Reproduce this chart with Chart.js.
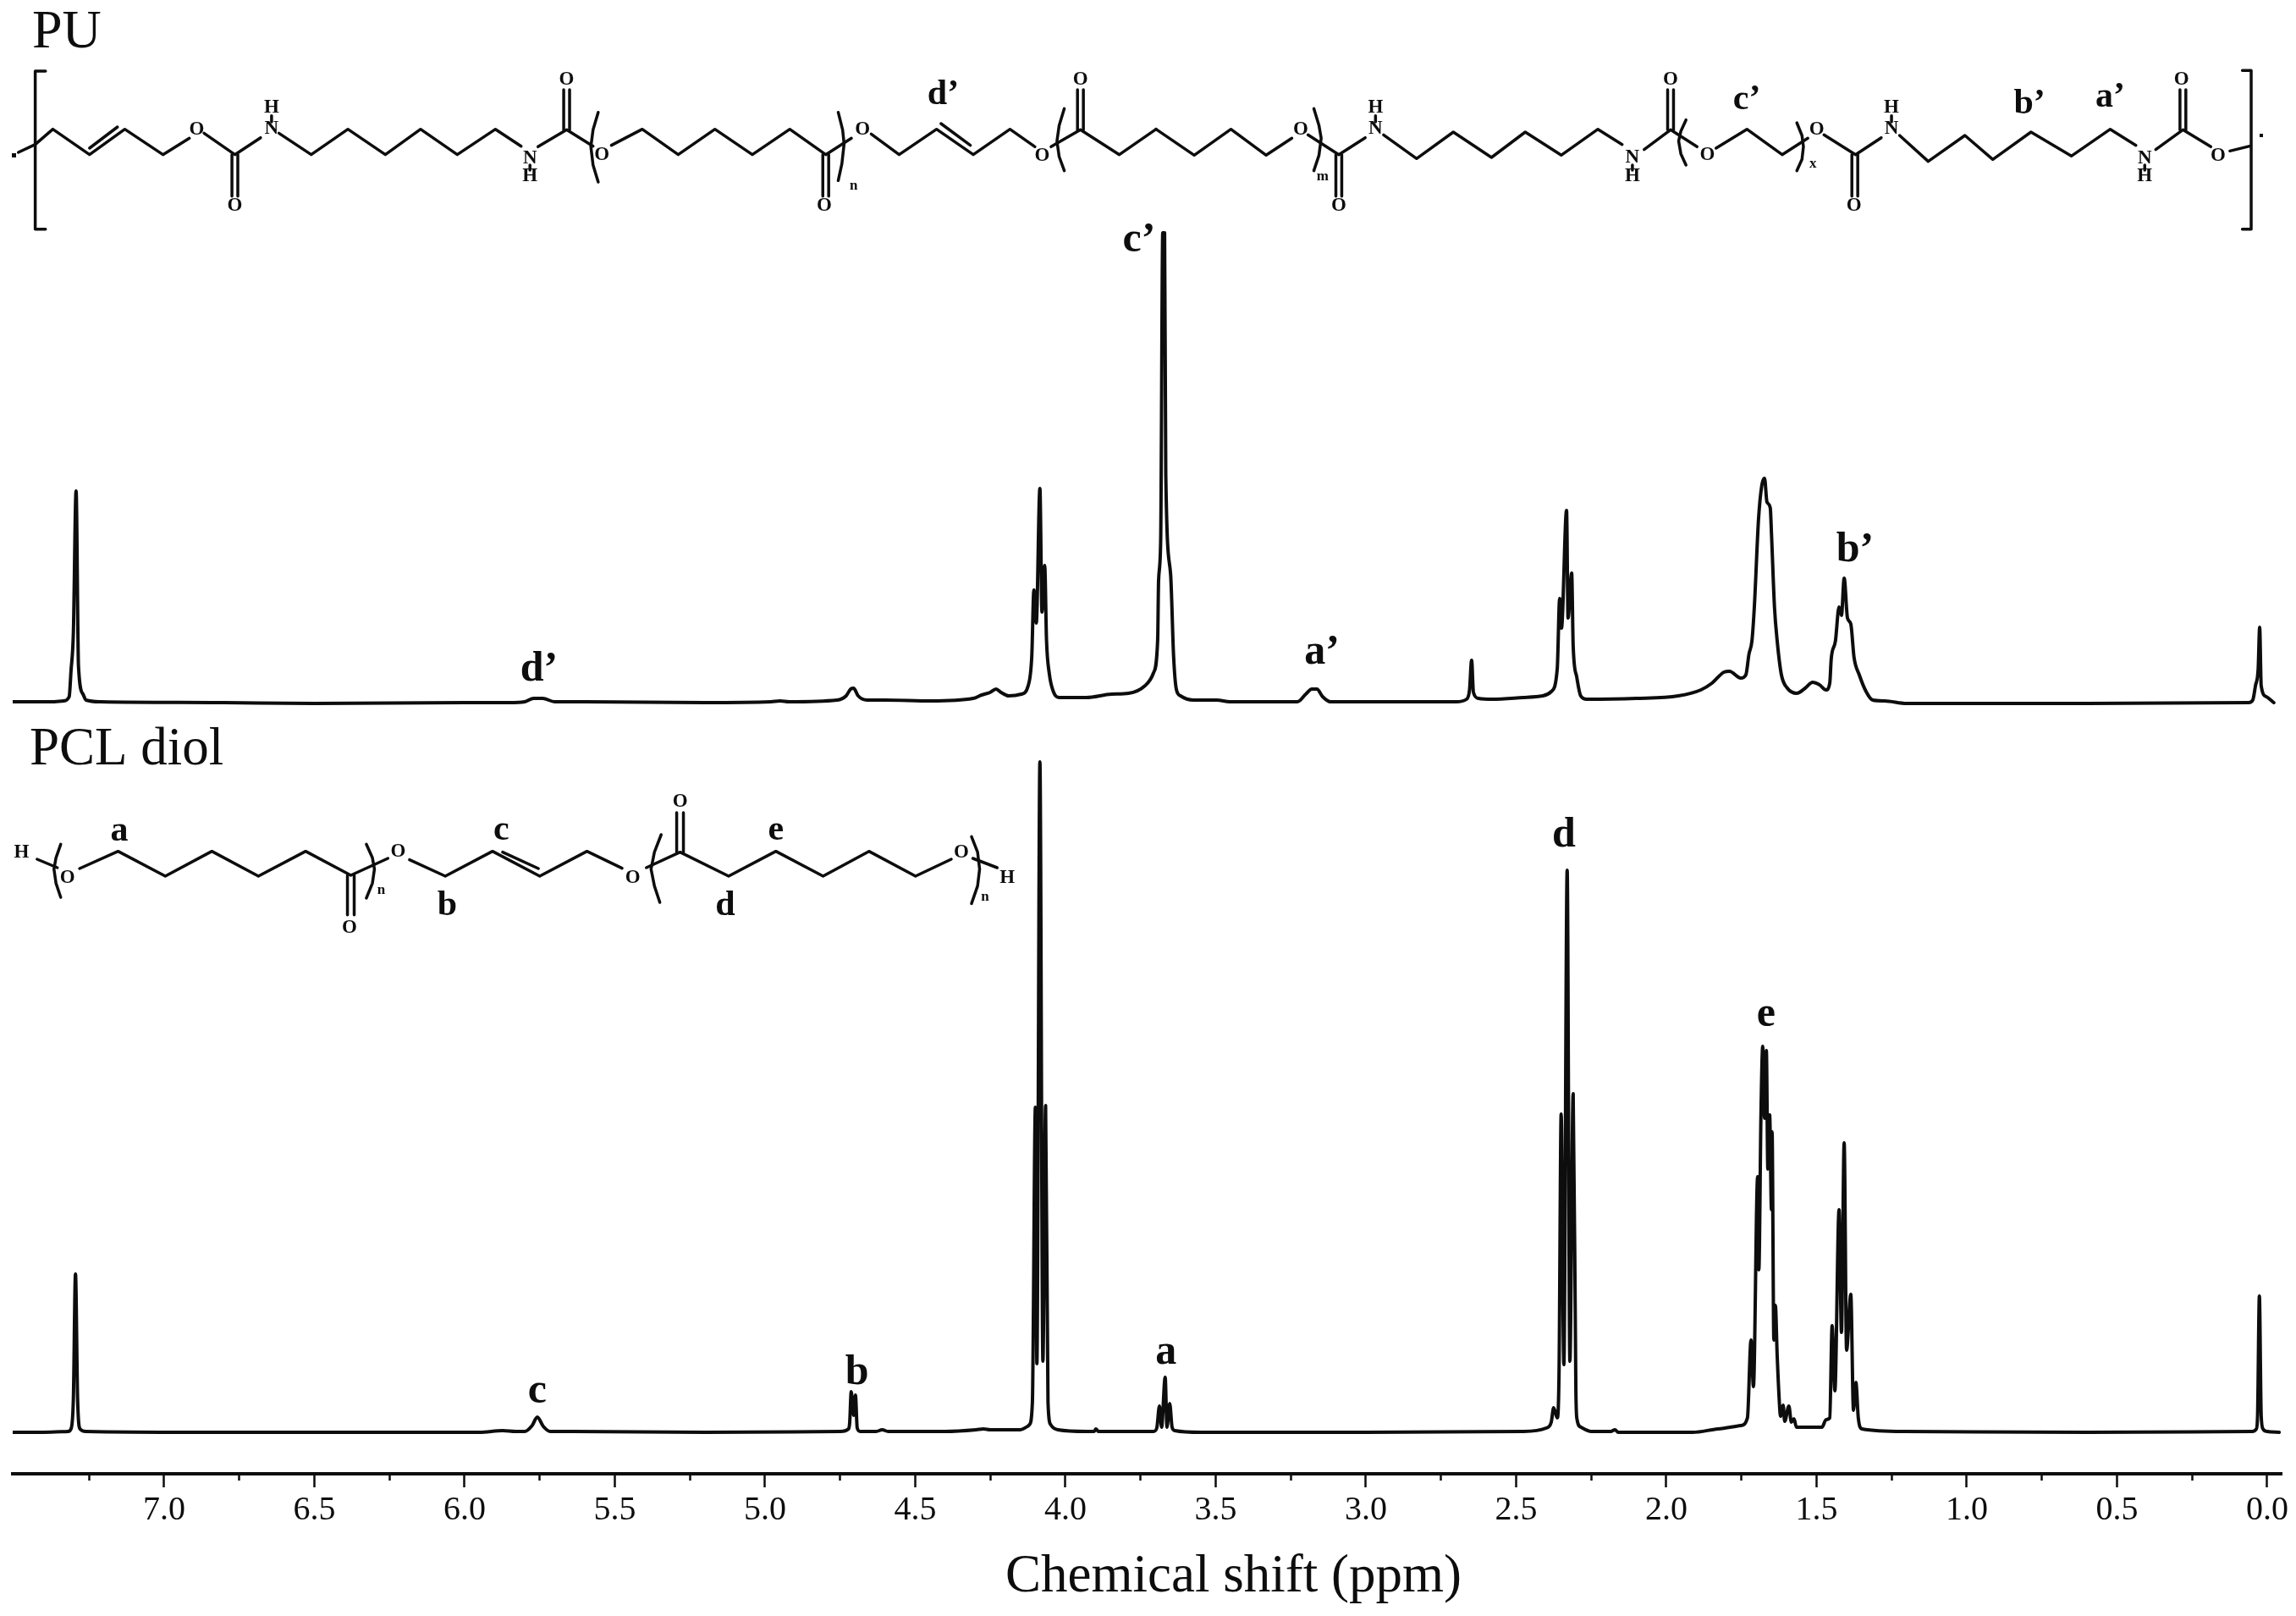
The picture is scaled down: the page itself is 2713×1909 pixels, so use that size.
<!DOCTYPE html>
<html><head><meta charset="utf-8">
<style>html,body{margin:0;padding:0;background:#fff}canvas{display:block}</style>
<script src="https://cdn.jsdelivr.net/npm/chart.js@4"></script>
</head><body><canvas id="c" width="2713" height="1909"></canvas>
<script>
const majorTicks=[7,6.5,6,5.5,5,4.5,4,3.5,3,2.5,2,1.5,1,0.5,0];
const minorTicks=[7.25,6.75,6.25,5.75,5.25,4.75,4.25,3.75,3.25,2.75,2.25,1.75,1.25,0.75,0.25];
const axisTitle="Chemical shift (ppm)";

const puShift=[7.504,7.377,7.335,7.316,7.31,7.302,7.293,7.285,7.27,7.26,7.21,6.8,6.5,6.0,5.85,5.8,5.77,5.74,5.7,5.6,5.2,4.98,4.95,4.92,4.76,4.73,4.715,4.705,4.69,4.66,4.6,4.448,4.307,4.279,4.251,4.231,4.214,4.189,4.147,4.124,4.112,4.105,4.097,4.085,4.078,4.069,4.063,4.054,4.039,4.02,3.93,3.847,3.79,3.735,3.707,3.693,3.69,3.683,3.676,3.670,3.666,3.65,3.64,3.631,3.617,3.575,3.496,3.453,3.228,3.2,3.18,3.163,3.144,3.118,3.04,2.8,2.7,2.665,2.655,2.648,2.642,2.625,2.58,2.476,2.411,2.383,2.363,2.355,2.349,2.332,2.327,2.315,2.31,2.298,2.285,2.265,2.101,1.96,1.885,1.848,1.808,1.79,1.752,1.735,1.725,1.715,1.707,1.693,1.682,1.673,1.665,1.654,1.65,1.64,1.631,1.617,1.597,1.566,1.538,1.513,1.49,1.468,1.456,1.451,1.437,1.425,1.417,1.408,1.397,1.386,1.375,1.358,1.335,1.313,1.273,1.2,0.6,0.062,0.048,0.039,0.03,0.025,0.02,0.003,-0.022];
const puIntensity=[1,1,2,7,37,83,250,43,10,3,1,0,-1,0,0,1,5,5,1,1,0,1,2,1,3,8,16,17,8,3,3,2,5,9,12,16,12,8,10,20,55,133,94,253,107,162,74,35,12,6,6,10,11,20,35,74,144,191,555,555,269,152,55,16,8,3,3,1,1,10,16,16,7,1,1,1,1,4,15,50,12,5,4,6,8,13,40,123,88,227,100,153,67,30,8,4,5,8,15,23,36,37,29,33,57,73,113,217,257,265,237,230,200,113,73,33,17,11,17,24,21,15,23,52,73,113,103,147,100,93,53,33,13,3,2,-1,-1,0,3,20,40,89,20,7,0];

const pclShift=[7.504,7.4,7.32,7.31,7.302,7.295,7.288,7.28,7.26,6.9,6.3,5.95,5.873,5.83,5.8,5.775,5.758,5.738,5.715,5.64,5.2,4.749,4.722,4.718,4.713,4.705,4.699,4.693,4.683,4.63,4.61,4.59,4.4,4.297,4.273,4.25,4.15,4.126,4.12,4.11,4.10,4.095,4.085,4.075,4.066,4.058,4.049,4.025,3.93,3.904,3.899,3.89,3.707,3.696,3.687,3.68,3.668,3.662,3.653,3.645,3.636,3.55,3.0,2.476,2.4,2.383,2.375,2.363,2.357,2.35,2.341,2.33,2.321,2.31,2.301,2.298,2.284,2.25,2.185,2.171,2.16,1.913,1.828,1.752,1.73,1.718,1.71,1.696,1.692,1.685,1.679,1.673,1.667,1.662,1.656,1.65,1.648,1.642,1.637,1.631,1.623,1.62,1.611,1.606,1.592,1.584,1.575,1.567,1.482,1.468,1.456,1.448,1.439,1.425,1.417,1.408,1.4,1.386,1.377,1.369,1.361,1.349,1.208,0.6,0.05,0.036,0.032,0.026,0.02,0.014,0,-0.04];
const pclIntensity=[0,0,1,4,40,187,40,4,1,0,0,0,2,1,1,8,18,7,1,1,0,1,4,12,48,20,44,5,1,1,3,1,1,3,4,3,3,7,9,35,384,81,792,84,386,35,9,3,1,1,4,1,1,5,31,6,65,6,34,6,2,0,0,1,5,12,29,17,72,376,80,664,84,400,49,17,6,1,1,3,0,0,4,8,17,109,54,302,192,375,456,371,451,311,375,263,355,109,150,91,31,19,32,13,31,12,16,6,6,15,17,126,49,263,118,342,97,163,26,59,17,4,1,0,1,4,20,161,20,4,1,0];

const peakLabels=["c’","d’","a’","b’"];
const peakLabelShift=[3.755,5.752,3.146,1.372];
const peakLabelHeight=[533,26,46,167];
const pclLabels=["d","e","c","b","a"];
const pclLabelShift=[2.341,1.668,5.758,4.694,3.665];
const pclLabelHeight=[692,480,35,57,81];

const Z1={ox:0,oy:0,sx:1/1.153,sy:1/3},Z2={ox:1353,oy:0,sx:1/1.153,sy:1/3},Z3={ox:0,oy:860,sx:1/1.2544,sy:1/3};
const structures=[
 {z:Z1,lines:[
  [[25,540],[48,512],[72,458],[122,548],[170,458],[222,548],[258,490]],[[122,525],[160,450]],
  [[278,472],[320,548],[355,488]],
  [[380,472],[424,548],[474,458],[525,548],[573,458],[623,548],[675,458],[710,518]],
  [[733,520],[772,460],[808,518]],
  [[833,515],[875,458],[924,548],[974,458],[1025,548],[1076,458],[1125,548],[1160,490]],
  [[1187,475],[1225,548],[1276,458],[1326,548],[1376,458],[1410,520]],[[1282,438],[1322,515]],
  [[1432,520],[1472,460],[1525,548],[1575,458]],
  [[370,410],[370,432]],[[722,585],[722,603]],
  [[316,548],[316,695]],[[324,548],[324,695]],[[768,460],[768,318]],[[776,460],[776,318]],
  [[1121,548],[1121,695]],[[1129,548],[1129,695]],[[1468,460],[1468,318]],[[1476,460],[1476,318]],
  [[815,398],[808,460],[805,520],[808,585],[815,645]],[[1142,398],[1148,460],[1150,510],[1147,580],[1142,640]],[[1450,385],[1443,445],[1440,500],[1443,555],[1450,605]],
  [[62,252],[48,252],[48,812],[62,812]]],
  text:[["O",268,458],["O",320,730],["O",1123,730],["O",772,283],["O",820,548],["O",1175,458],["O",1420,552],["O",1472,283],["N",370,455],["N",722,562],["H",370,382],["H",722,625]],
  small:[["n",1163,660]],labels:[["d’",1285,335]]},
 {z:Z2,lines:[
  [[15,458],[67,550],[117,458],[165,550],[200,490]],
  [[222,478],[264,548],[300,488]],
  [[325,478],[370,562],[420,468],[472,558],[518,468],[567,550],[617,458],[650,512]],
  [[680,530],[716,460],[752,520]],
  [[778,525],[820,458],[868,548],[903,490]],
  [[925,478],[968,548],[1003,488]],
  [[1028,480],[1067,572],[1117,480],[1155,565],[1207,468],[1262,553],[1315,458],[1350,515]],
  [[1377,530],[1414,460],[1452,520]],
  [[1478,535],[1505,518]],
  [[314,410],[314,432]],[[664,585],[664,603]],[[1017,410],[1017,432]],[[1362,585],[1362,603]],
  [[260,548],[260,695]],[[268,548],[268,695]],[[712,460],[712,318]],[[720,460],[720,318]],
  [[963,548],[963,695]],[[971,548],[971,695]],[[1410,460],[1410,318]],[[1418,460],[1418,318]],
  [[230,385],[237,445],[240,490],[237,550],[230,605]],[[737,425],[730,465],[727,500],[730,545],[737,585]],[[888,435],[895,480],[897,520],[895,565],[888,605]],
  [[1495,250],[1507,250],[1507,812],[1495,812]]],
  text:[["O",212,458],["O",264,730],["O",716,283],["O",766,550],["O",915,458],["O",966,730],["O",1412,283],["O",1462,552],["N",314,455],["N",664,558],["N",1017,455],["N",1362,560],["H",314,382],["H",664,625],["H",1017,382],["H",1362,625]],
  small:[["m",242,625],["x",910,580]],labels:[["c’",820,355],["b’",1205,368],["a’",1315,345]]},
 {z:Z3,lines:[
  [[55,465],[85,495]],[[118,498],[175,437],[245,525],[314,437],[383,525],[453,437],[520,522],[575,462]],
  [[607,467],[660,525],[730,437],[800,525],[870,437],[922,497]],[[745,440],[798,498]],
  [[958,495],[1008,440],[1080,525],[1150,437],[1220,525],[1288,437],[1357,525],[1410,465]],
  [[1442,462],[1478,495]],
  [[515,522],[515,662]],[[525,522],[525,662]],[[1003,440],[1003,300]],[[1013,440],[1013,300]],
  [[90,412],[83,460],[80,500],[83,550],[90,600]],[[543,412],[552,460],[555,500],[552,550],[543,603]],
  [[980,378],[970,440],[965,500],[970,560],[978,618]],[[1440,385],[1449,440],[1452,500],[1449,560],[1440,622]]],
  text:[["H",32,440],["O",100,530],["O",518,708],["O",590,437],["O",938,530],["O",1008,262],["O",1425,440],["H",1493,530]],
  small:[["n",565,575],["n",1460,600]],labels:[["a",177,365],["c",743,362],["e",1150,362],["b",663,630],["d",1075,630]]}
];
const panelTitles=[["PU",38,56,64],["PCL diol",35,903,63]];

const SERIF='"Liberation Serif"';
const INK='#0d0d0d';
const annotate={id:'annotate',afterDatasetsDraw(chart){
  const ctx=chart.ctx,{x,yPU,yPCL}=chart.scales;
  ctx.save();ctx.fillStyle=INK;ctx.strokeStyle=INK;
  ctx.textAlign='center';ctx.textBaseline='alphabetic';
  ctx.font='bold 50px '+SERIF;
  peakLabels.forEach((t,i)=>ctx.fillText(t,x.getPixelForValue(peakLabelShift[i]),yPU.getPixelForValue(peakLabelHeight[i])));
  pclLabels.forEach((t,i)=>ctx.fillText(t,x.getPixelForValue(pclLabelShift[i]),yPCL.getPixelForValue(pclLabelHeight[i])));
  ctx.textAlign='left';
  panelTitles.forEach(([t,px,py,size])=>{ctx.font=size+'px '+SERIF;ctx.fillText(t,px,py);});
  ctx.textAlign='center';ctx.textBaseline='middle';ctx.lineJoin='round';ctx.lineCap='round';
  structures.forEach(s=>{
    const X=v=>s.z.ox+v*s.z.sx,Y=v=>s.z.oy+v*s.z.sy;
    ctx.lineWidth=3.5;
    s.lines.forEach(l=>{ctx.beginPath();l.forEach(([a,b],i)=>i?ctx.lineTo(X(a),Y(b)):ctx.moveTo(X(a),Y(b)));ctx.stroke();});
    ctx.font='bold 23px '+SERIF;
    s.text.forEach(([t,a,b])=>ctx.fillText(t,X(a),Y(b)));
    ctx.font='bold 17px '+SERIF;
    s.small.forEach(([t,a,b])=>ctx.fillText(t,X(a),Y(b)));
    ctx.font='bold 42px '+SERIF;
    s.labels.forEach(([t,a,b])=>ctx.fillText(t,X(a),Y(b)));
  });
  ctx.fillRect(14,181,5,5);ctx.fillRect(2670,158,4,4);
  ctx.restore();
}};

const toPts=(xs,ys)=>xs.map((v,i)=>({x:v,y:ys[i]}));
const lineStyle={borderColor:INK,borderWidth:4,pointRadius:0,cubicInterpolationMode:'monotone',borderJoinStyle:'round',borderCapStyle:'round',fill:false};
new Chart(document.getElementById('c'),{
  type:'line',
  plugins:[annotate],
  data:{datasets:[
    {label:'PU',data:toPts(puShift,puIntensity),yAxisID:'yPU',xAxisID:'x',...lineStyle},
    {label:'PCL diol',data:toPts(pclShift,pclIntensity),yAxisID:'yPCL',xAxisID:'x',...lineStyle}
  ]},
  options:{
    responsive:false,animation:false,devicePixelRatio:1,
    layout:{padding:{left:15,right:17,top:0,bottom:0}},
    plugins:{legend:{display:false},title:{display:false},tooltip:{enabled:false}},
    scales:{
      x:{type:'linear',reverse:true,min:-0.048,max:7.504,position:'bottom',
        afterBuildTicks:s=>{s.ticks=majorTicks.map(v=>({value:v}));},
        afterFit:s=>{s.height=168;s.paddingLeft=0;s.paddingRight=0;
          const draw=s.drawTitle;
          s.drawTitle=function(a){s.ctx.save();s.ctx.translate(102,0);draw.call(s,a);s.ctx.restore();};},
        border:{display:true,color:INK,width:4},
        grid:{display:true,drawOnChartArea:false,drawTicks:true,tickLength:16,tickWidth:2.5,tickColor:INK},
        ticks:{autoSkip:false,maxRotation:0,padding:3,color:INK,font:{family:SERIF,size:40},callback:v=>v.toFixed(1)},
        title:{display:true,text:axisTitle,color:INK,font:{family:SERIF,size:63},padding:{top:0,bottom:8}}},
      xMinor:{type:'linear',axis:'x',reverse:true,min:-0.048,max:7.504,position:{yPCL:-49},
        afterBuildTicks:s=>{s.ticks=minorTicks.map(v=>({value:v}));},
        border:{display:false},
        grid:{display:true,drawOnChartArea:false,drawTicks:true,tickLength:8,tickWidth:2.5,tickColor:INK},
        ticks:{display:false,autoSkip:false,maxRotation:0}},
      yPU:{type:'linear',display:false,min:-911,max:830},
      yPCL:{type:'linear',display:false,min:-49,max:1692}
    }
  }
});
</script></body></html>
